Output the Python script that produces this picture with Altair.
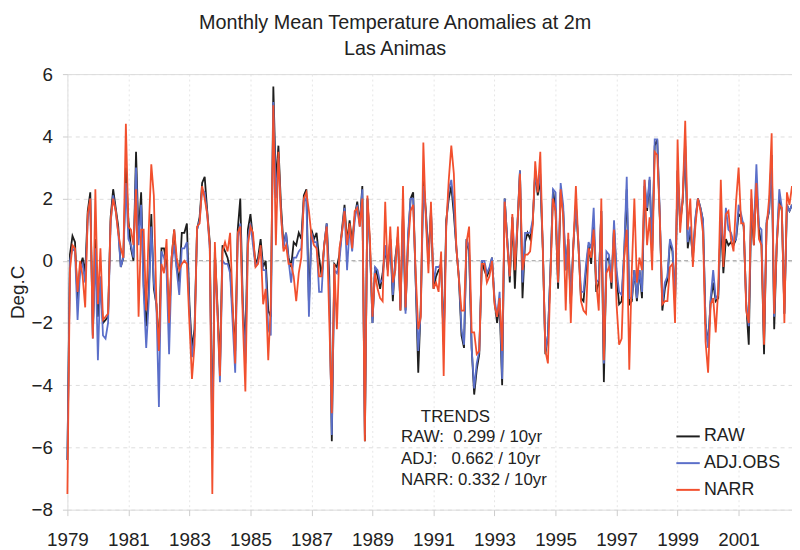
import altair as alt
import pandas as pd

FONT = "Liberation Sans"
START_YEAR = 1979

TITLE_LINES = ["Monthly Mean Temperature Anomalies at 2m", "Las Animas"]
SERIES = ["RAW", "ADJ.OBS", "NARR"]
COLORS = ["#1e1e1e", "#5b6fc9", "#f2502e"]
X_TICKS = [1979, 1981, 1983, 1985, 1987, 1989, 1991, 1993, 1995, 1997, 1999, 2001]
Y_TICKS = [-8, -6, -4, -2, 0, 2, 4, 6]
TREND_HEAD = "TRENDS"
TREND_LINES = ["RAW:\u00a0 0.299 / 10yr", "ADJ:\u00a0\u00a0 0.662 / 10yr", "NARR: 0.332 / 10yr"]

RAW = [
    -6.4, 0.2, 0.8, 0.6, -1.3, -0.2, 0.1, -0.4, 1.6, 2.2,
    -2.4, 0.7, -1.8, -0.7, -2.0, -1.9, -1.8, 1.4, 2.3, 1.7,
    1.1, -0.2, 0.1, 3.0, 1.3, 0.4, 0.0, 3.5, 0.8, 2.2,
    -0.8, -2.1, -1.0, 1.5, -0.9, -1.4, -2.8, 0.4, 0.4, -0.1,
    -2.0, 0.1, 1.0, -0.2, -0.7, 0.9, 0.9, 1.2, -1.4, -2.8,
    -2.2, 1.0, 1.4, 2.5, 2.7, 1.6, 0.6, -5.6, 0.3, -1.4,
    -3.5, 0.5, 0.3, 0.1, -0.3, -1.6, -2.9, 1.0, 2.0, -1.4,
    -2.8, 1.0, 1.5, 0.7, -0.1, 0.1, 0.7, -0.2, 0.0, -1.6,
    -1.8, 5.6, 2.5, 3.7, 1.8, 0.5, 0.9, 0.1, -0.2, 0.6,
    0.5, 0.9, 0.7, 2.1, 2.3, -1.4, 1.0, 0.7, 0.9, 0.1,
    -0.5, 0.5, 1.2, -0.5, -5.8, -0.1, -0.2, 0.2, 1.0, 1.8,
    0.6, 1.3, 0.6, 1.4, 1.9, 1.2, 2.4, -5.8, 2.0, 0.5,
    -2.0, -0.2, -0.5, -0.9, -0.4, 0.4, -0.3, 0.7, -1.3, 0.1,
    0.8, -1.6, 1.6, -1.6, 0.7, 2.0, 2.2, -0.7, -3.6, -1.4,
    2.6, 1.6, 0.1, 1.6, -0.9, -0.5, -0.3, -0.2, -2.6, 1.3,
    2.0, 2.4, 1.5, 0.4, -0.6, -2.4, -2.8, 0.7, 0.3, -2.8,
    -4.3, -3.5, -3.0, 0.0, -0.3, -0.5, -0.3, 0.1, -1.3, -2.0,
    -1.4, -4.0, 2.0, 0.7, -0.7, 1.4, -0.9, 1.1, 2.9, -1.2,
    0.6, 0.9, 0.7, 1.2, 2.9, 2.1, 2.6, 0.4, -3.0, -2.4,
    -0.3, 2.3, 1.6, -0.9, 2.2, 1.6, -0.3, 0.7, -1.4, 0.5,
    1.8, 0.5, -1.2, -1.3, -0.3, 0.5, -0.1, 1.2, -1.0, -0.7,
    1.6, -3.9, 0.0, 0.1, -0.9, 1.1, -0.5, -1.4, -1.3, 0.2,
    2.3, -1.4, -1.3, -0.3, -1.3, -0.3, -1.2, 2.4, 1.6, 2.6,
    0.3, 3.7, 3.9, 1.4, -1.6, -0.9, -0.6, 0.6, 0.3, -1.4,
    2.9, 1.2, 1.9, 3.7, 0.4, 1.0, 0.1, 1.3, 2.0, 1.7,
    1.3, -2.0, -2.7, -1.3, -0.7, -1.3, -1.2, 1.4, -0.4, 0.7,
    0.5, 0.6, 0.5, 0.7, 1.5, 1.4, 1.1, -1.4, -2.7, 1.8,
    0.5, 2.5, 1.0, 0.5, -3.0, 1.2, 1.6, 3.4, -2.2, 0.5,
    2.0, 1.6, -1.7, 1.8, 1.6, 1.8,
]

ADJ = [
    -6.4, 0.0, 0.4, 0.3, -1.9, -0.3, -0.1, -0.7, 1.3, 2.0,
    -2.5, 0.4, -3.2, -0.5, -2.4, -2.5, -2.0, 1.2, 2.1, 1.6,
    0.9, -0.2, 0.1, 2.5, 0.7, 0.5, 0.1, 3.0, 0.5, 1.8,
    -1.0, -2.8, -1.3, 1.1, -0.7, -1.4, -4.7, 0.3, 0.1, -0.3,
    -3.0, -0.1, 0.5, -0.3, -1.1, 0.4, 0.4, 0.6, -1.6, -3.1,
    -2.4, 1.0, 1.3, 2.3, 2.2, 1.5, 0.4, -6.0, 0.1, -1.6,
    -3.9, 0.0, -0.1, -0.1, -0.4, -2.0, -3.6, 0.7, 1.2, -1.5,
    -3.3, 0.7, 1.2, 0.5, -0.2, 0.0, 0.4, -0.3, -0.3, -2.2,
    -2.4, 5.1, 2.0, 3.3, 1.5, 0.4, 0.9, 0.0, -0.7, 0.1,
    0.1, 0.3, 0.4, 1.9, 2.0, -1.8, 0.9, 0.6, 0.6, -1.0,
    -1.0, 0.5, 1.2, -0.9, -5.6, -0.3, -0.4, 0.0, 0.9, 1.7,
    -0.3, 1.1, 0.3, 1.3, 1.8, 1.1, 2.3, -5.6, 2.0, 0.4,
    -2.0, -0.2, -0.3, -0.7, -0.6, 0.5, -0.2, 0.7, -1.1, 0.0,
    0.7, -1.5, 1.5, -1.7, 0.9, 2.0, 2.0, -0.7, -2.9, -1.6,
    2.4, 1.5, -0.1, 1.7, -0.7, -0.2, -0.2, -0.1, -2.7, 1.1,
    2.3, 2.6, 1.8, 0.4, -0.5, -2.2, -2.7, 0.7, 0.4, -2.8,
    -4.1, -3.3, -2.9, 0.0, 0.0, -0.4, -0.2, 0.1, -1.2, -1.8,
    -1.0, -3.8, 2.0, 0.7, -0.5, 1.4, -0.1, 1.2, 2.9, -0.7,
    0.9, 0.9, 0.9, 1.3, 2.8, 2.3, 2.8, 0.4, -2.9, -2.4,
    -0.3, 2.3, 2.2, -0.7, 2.5, 1.8, -0.3, 0.7, -1.4, 0.5,
    1.8, 0.6, -1.0, -1.0, -0.1, 0.6, 0.4, 1.7, -0.7, -0.6,
    1.6, -3.3, 0.3, 0.2, -0.7, 1.3, -0.3, -1.0, -1.1, 0.3,
    2.7, -1.2, -1.2, -0.3, -1.2, -0.3, -1.0, 2.6, 1.7, 2.7,
    0.3, 3.9, 3.9, 1.5, -1.4, -0.7, -0.5, 0.7, 0.4, -1.4,
    2.9, 1.3, 2.0, 3.9, 0.6, 1.1, 0.1, 1.4, 2.0, 1.7,
    1.3, -2.0, -2.8, -1.2, -0.3, -1.2, -1.1, 1.5, 0.3, 1.7,
    1.0, 0.9, 0.6, 0.7, 1.8, 1.5, 1.1, -1.4, -2.1, 2.0,
    1.0, 3.1, 1.1, 1.0, -2.6, 1.3, 1.6, 3.4, -1.8, 0.6,
    2.3, 1.7, -1.7, 1.8, 1.6, 1.8,
]

NARR = [
    -7.5, -0.3, 0.5, 0.4, -1.0, 0.0, -0.5, -1.5, 1.5, 2.0,
    -2.5, 2.3, -1.4, 0.4, -1.9, -1.8, -1.7, 1.3, 2.0, 1.6,
    0.9, 0.4, 0.1, 4.4, 1.1, 1.0, 0.5, 2.3, -1.8, 1.0,
    1.0, -1.6, 1.0, 3.1, 2.1, -1.3, -2.9, -0.1, -0.4, 0.7,
    -2.0, 0.1, 1.0, 0.1, -0.3, -0.1, 0.0, -0.1, -2.0, -3.8,
    -2.7, 1.1, 1.2, 2.4, 2.0, 1.5, 0.5, -7.5, 0.6, -1.6,
    -3.7, 0.3, 0.6, 0.3, 0.9, -1.4, -3.3, 0.9, 1.1, -1.9,
    -4.2, 0.5, 1.1, 0.9, -0.2, -0.1, 0.5, -1.4, -0.9, -3.2,
    -1.4, 5.0, 0.5, 3.5, 1.5, 0.3, 0.5, -0.1, -0.1, -0.5,
    -1.3, -0.4, 0.1, 2.0, 2.2, 1.6, 0.8, 0.5, 0.4, -0.5,
    -0.5, 0.5, 1.1, -1.9, -4.9, -0.1, -2.2, 0.4, 0.9, 1.6,
    0.5, 1.2, 0.4, 1.6, 1.7, 1.1, 2.0, -5.8, 2.1, 0.7,
    -1.8, -0.4, -0.9, -1.2, -1.3, 1.9, -0.5, 1.1, -0.7, -0.3,
    1.1, -1.6, 2.4, -1.5, 0.5, 1.6, 1.8, -0.4, -2.2, -1.8,
    3.8, 1.3, -0.4, 1.9, -0.9, -0.7, -1.0, 0.3, -3.7, 1.1,
    2.6, 3.7, 2.8, 0.4, -0.6, -1.6, -1.6, 0.6, 1.1, -2.3,
    -2.3, -3.0, -2.9, -0.1, -0.1, -0.7, -0.5, 0.0, -1.4, -1.8,
    -1.2, -2.9, 1.9, 0.5, -0.5, 1.5, -0.3, 1.1, 2.8, -0.3,
    0.2, 0.2, 0.3, 1.1, 3.2, 2.2, 3.5, 0.3, -2.9, -3.3,
    -0.5, 2.0, 1.6, -0.7, 2.3, 1.4, -1.6, 0.9, -2.0, 0.5,
    2.4, 0.5, -1.3, -1.6, -1.7, 0.4, 0.1, 1.0, -0.7, -1.6,
    2.0, -3.2, -0.4, -0.2, -0.7, 1.0, -1.4, -2.7, -2.5, 0.1,
    1.0, -3.5, -0.3, 2.0, -0.7, 0.1, -0.3, 2.6, 0.5, 1.4,
    -0.3, 3.5, 3.4, 1.4, -1.4, -1.3, -1.3, -0.2, -0.1, -2.0,
    3.9, 0.9, 2.0, 4.5, 1.0, 2.0, -0.2, 1.1, 2.0, 1.6,
    0.9, -2.6, -3.6, -1.4, -1.2, -2.3, -0.9, 2.6, -0.2, 1.5,
    1.6, 0.7, 0.3, 1.9, 3.0, 1.2, 1.2, -1.6, -2.0, 2.3,
    0.5, 2.5, 0.7, 0.5, -2.7, 1.1, 2.0, 4.1, -1.7, 0.5,
    1.8, 1.7, -2.0, 2.2, 1.8, 2.4,
]

n = len(RAW)
years = [START_YEAR + i / 12 for i in range(n)]
frames = []
for name, vals in zip(SERIES, [RAW, ADJ, NARR]):
    frames.append(pd.DataFrame({"year": years, "value": vals, "series": name}))

W, H = 732, 440

x_scale = alt.Scale(domain=[START_YEAR, START_YEAR + (n - 1) / 12], nice=False, zero=False)
y_scale = alt.Scale(domain=[-8, 6], nice=False)

color = alt.Color(
    "series:N",
    scale=alt.Scale(domain=SERIES, range=COLORS),
    legend=alt.Legend(
        title=None, orient="none", legendX=614, legendY=353,
        symbolType="stroke", symbolSize=560, symbolStrokeWidth=2,
        labelFontSize=18, labelFont=FONT, labelColor="#222",
        rowPadding=5, labelOffset=3, padding=0,
    ),
)

x_enc = alt.X(
    "year:Q", scale=x_scale,
    axis=alt.Axis(
        values=X_TICKS, format="d", title=None, labelFontSize=19, labelFont=FONT,
        labelColor="#222", tickColor="#cccccc", tickSize=6, labelPadding=15,
        grid=True, gridColor="#e6e6e6", gridDash=[2, 3], domain=False,
        labelFlush=False,
    ),
)
y_enc = alt.Y(
    "value:Q", scale=y_scale,
    axis=alt.Axis(
        values=Y_TICKS, title="Deg.C", labelFontSize=19, labelFont=FONT,
        labelColor="#222", tickColor="#cccccc", tickSize=5, labelPadding=10,
        grid=True, gridColor="#dddddd", gridDash=[4, 4], domain=False,
        titleFont=FONT, titleFontSize=19, titleFontWeight="normal", titleColor="#222",
        titleAngle=-90, titleX=-50, titleY=H / 2, titleAlign="center", titleBaseline="middle",
    ),
)

zero_rule = alt.Chart(pd.DataFrame({"z": [0]})).mark_rule(
    color="#999999", strokeDash=[4, 3], strokeWidth=1.2
).encode(y=alt.Y("z:Q", scale=y_scale))

layers = [zero_rule]
for df in frames:
    layers.append(
        alt.Chart(df).mark_line(strokeWidth=1.8).encode(x=x_enc, y=y_enc, color=color)
    )

head = alt.Chart(pd.DataFrame({"t": [TREND_HEAD]})).mark_text(
    font=FONT, fontSize=17, color="#222", align="center", baseline="middle"
).encode(x=alt.value(392), y=alt.value(346), text="t:N")

trend_df = pd.DataFrame({"t": TREND_LINES, "i": list(range(len(TREND_LINES)))})
trends = alt.Chart(trend_df).mark_text(
    font=FONT, fontSize=17, color="#222", align="left", baseline="middle"
).transform_calculate(py="367 + 21.5 * datum.i").encode(
    x=alt.value(337), y=alt.Y("py:Q", scale=None), text="t:N"
)

layers += [head, trends]

chart = alt.layer(*layers).properties(
    width=W, height=H,
    title=alt.Title(
        TITLE_LINES, fontSize=20, font=FONT, fontWeight="normal", color="#222",
        anchor="middle", dx=-35, offset=6, lineHeight=27,
    ),
    autosize=alt.AutoSizeParams(type="none"),
    padding={"left": 60, "top": 64, "right": 0, "bottom": 42},
).configure_view(stroke="#aaaaaa", strokeWidth=2).configure(background="white")

chart.save("out.html", embed_options={"renderer": "svg", "actions": False})
